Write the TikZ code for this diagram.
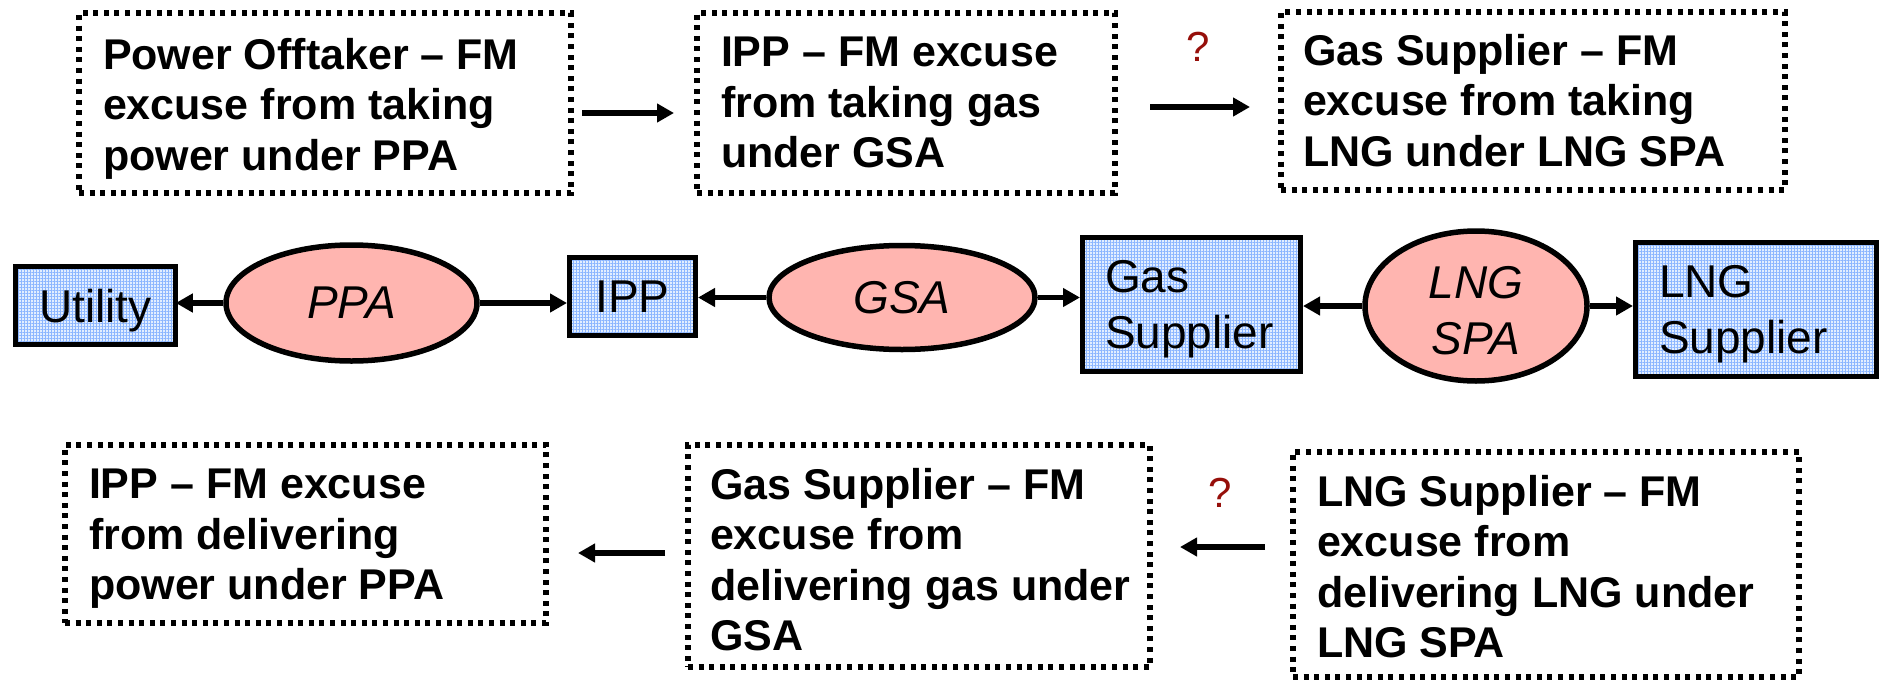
\documentclass[tikz,border=0pt]{standalone}
\usepackage{fontspec}
\setmainfont{Liberation Sans}
\usetikzlibrary{arrows.meta,shapes.geometric,patterns.meta}

\definecolor{gridblue}{RGB}{140,182,255}
\definecolor{paleblue}{RGB}{226,238,255}
\definecolor{salmon}{RGB}{255,181,176}
\definecolor{qred}{RGB}{150,15,10}

\begin{document}
\begin{tikzpicture}[x=1pt,y=-1pt,
  fmbox/.style={draw, line width=5.2pt, dash pattern=on 5pt off 5.6pt, outer sep=0pt, inner sep=0pt},
  fmtext/.style={inner sep=0pt, outer sep=0pt, align=left, anchor=north west,
    font=\fontsize{43}{50.5}\selectfont\bfseries},
  party/.style={draw, line width=5pt, preaction={fill=paleblue},
    preaction={pattern={Lines[distance=3pt,angle=0,line width=0.5pt]}, pattern color=gridblue},
    pattern={Lines[distance=3pt,angle=90,line width=0.5pt]}, pattern color=gridblue,
    inner sep=0pt, font=\fontsize{46}{56}\selectfont},
  deal/.style={ellipse, draw, line width=5.5pt, fill=salmon, inner sep=0pt, align=center,
    font=\fontsize{46}{56}\selectfont\itshape},
  link/.style={line width=5.5pt, -{Triangle[length=17pt,width=18pt]}},
  query/.style={text=qred, inner sep=0pt, font=\fontsize{42}{50}\selectfont}
]
\useasboundingbox (0,0) rectangle (1881,680);

% --- upper row: excuses from taking ---
\node[fmbox, minimum width=492pt, minimum height=180pt] (b1) at (325,103) {};
\node[fmtext] (t1) at ([shift={(24pt,-25pt)}]b1.north west)
  {Power Offtaker \textendash{} FM\\excuse from taking\\power under PPA};
\node[fmbox, minimum width=418pt, minimum height=180pt] (b2) at (906,103) {};
\node[fmtext] (t2) at ([shift={(24pt,-24pt)}]b2.north west)
  {IPP \textendash{} FM excuse\\from taking gas\\under GSA};
\node[fmbox, minimum width=504pt, minimum height=178pt] (b3) at (1533,101) {};
\node[fmtext] (t3) at ([shift={(22pt,-22pt)}]b3.north west)
  {Gas Supplier \textendash{} FM\\excuse from taking\\LNG under LNG SPA};

\draw[link, shorten <=11pt, shorten >=23pt] ([yshift=-10pt]b1.east) -- ([yshift=-10pt]b1.east -| b2.west);
\draw[link, shorten <=35pt, shorten >=31pt] ([yshift=-4pt]b2.east) -- ([yshift=-4pt]b2.east -| b3.west);
\node[query] (q1) at (1198,47) {?};

% --- middle row: parties and contracts ---
\node[party, minimum width=160pt, minimum height=78pt, text depth=0pt] (util) at (95.5,305.5) {Utility};
\node[deal, minimum width=251pt, minimum height=116pt] (ppa) at (351.5,303) {PPA};
\node[party, minimum width=126pt, minimum height=78pt] (ipp) at (632.5,296.5) {IPP};
\node[deal, minimum width=266pt, minimum height=104pt] (gsa) at (902,297.5) {GSA};
\node[party, minimum width=218pt, minimum height=134pt, text width=173pt, align=left] (gas) at (1191.5,304.5)
  {\rule{0pt}{42pt}Gas\\Supplier};
\node[deal, minimum width=222pt, minimum height=150pt] (lngspa) at (1476,306) {\rule{0pt}{42pt}LNG\\SPA};
\node[party, minimum width=241pt, minimum height=134pt, text width=194pt, align=left] (lng) at (1756,309.5)
  {\rule{0pt}{42pt}LNG\\Supplier};

\draw[link] (ppa.west) -- (ppa.west -| util.east);
\draw[link] (ppa.east) -- (ppa.east -| ipp.west);
\draw[link] (gsa.west) -- (gsa.west -| ipp.east);
\draw[link] (gsa.east) -- (gsa.east -| gas.west);
\draw[link] (lngspa.west) -- (lngspa.west -| gas.east);
\draw[link] (lngspa.east) -- (lngspa.east -| lng.west);

% --- lower row: excuses from delivering ---
\node[fmbox, minimum width=481pt, minimum height=178pt] (b4) at (305.5,534) {};
\node[fmtext] (t4) at ([shift={(24pt,-24pt)}]b4.north west)
  {IPP \textendash{} FM excuse\\from delivering\\power under PPA};
\node[fmbox, minimum width=462pt, minimum height=222pt] (b5) at (919,556) {};
\node[fmtext] (t5) at ([shift={(22pt,-23pt)}]b5.north west)
  {Gas Supplier \textendash{} FM\\excuse from\\delivering gas under\\GSA};
\node[fmbox, minimum width=506pt, minimum height=225pt] (b6) at (1546,564.5) {};
\node[fmtext] (t6) at ([shift={(24pt,-23pt)}]b6.north west)
  {LNG Supplier \textendash{} FM\\excuse from\\delivering LNG under\\LNG SPA};

\draw[link, shorten <=23pt, shorten >=32pt] ([yshift=3pt]b5.west) -- ([yshift=3pt]b5.west -| b4.east);
\draw[link, shorten <=28pt, shorten >=30pt] ([yshift=17.5pt]b6.west) -- ([yshift=17.5pt]b6.west -| b5.east);
\node[query] (q2) at (1220,493) {?};
\end{tikzpicture}
\end{document}
